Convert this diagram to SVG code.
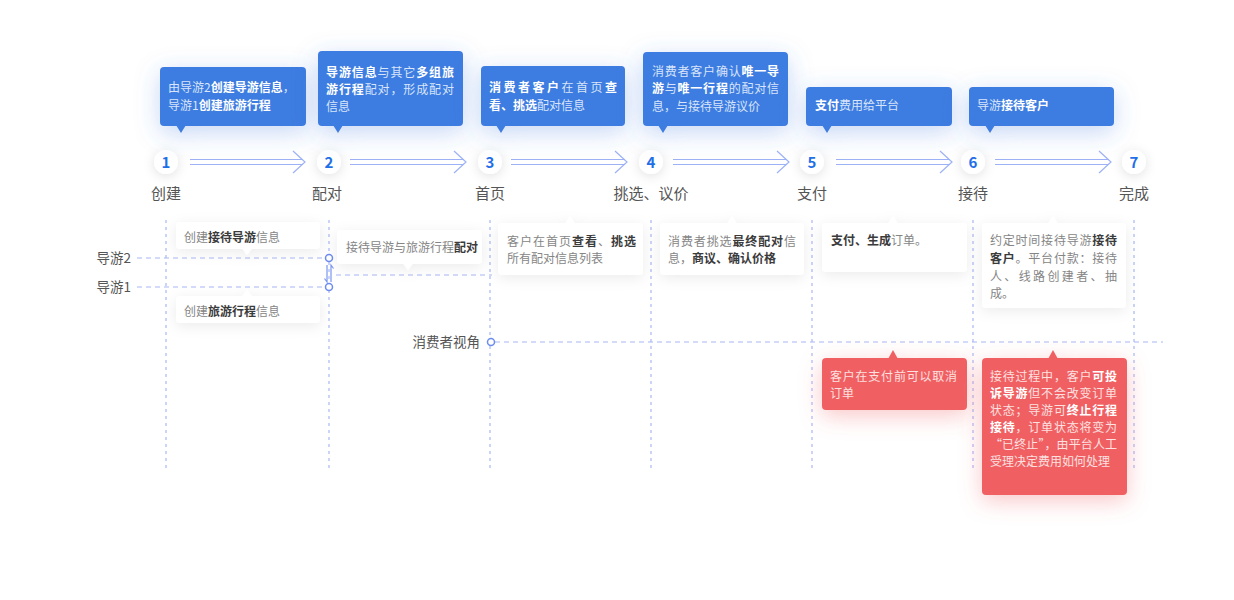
<svg xmlns="http://www.w3.org/2000/svg" width="1234" height="600" viewBox="0 0 1234 600">
<defs>
<filter id="fBlue" x="-50%" y="-80%" width="200%" height="280%"><feDropShadow dx="0" dy="6" stdDeviation="12" flood-color="#3e7ce0" flood-opacity="0.3"/></filter>
<filter id="fGray" x="-30%" y="-60%" width="160%" height="240%"><feDropShadow dx="0" dy="3" stdDeviation="7" flood-color="#000" flood-opacity="0.08"/></filter>
<filter id="fRed" x="-50%" y="-50%" width="200%" height="220%"><feDropShadow dx="0" dy="6" stdDeviation="11" flood-color="#f06064" flood-opacity="0.35"/></filter>
<filter id="fCirc" x="-150%" y="-150%" width="400%" height="400%"><feDropShadow dx="0" dy="2" stdDeviation="6" flood-color="#000" flood-opacity="0.12"/></filter>
</defs>
<style>
text{font-family:"Noto Sans CJK SC","Noto Sans",sans-serif}
.blue{fill:#3e7be0}
.white{fill:#fff}
.red{fill:#f06064}
.bt{font-size:12px;fill:#d9e5fb}
.bt .b{font-weight:bold;fill:#fff}
.ct{font-size:12px;fill:#858585}
.ct .b{font-weight:bold;fill:#3b3b3b}
.rt{font-size:12px;fill:#fde0e0}
.rt .b{font-weight:bold;fill:#fff}
.vd{stroke:#a9b7f5;stroke-width:1.2;stroke-dasharray:3 4;fill:none}
.hd{stroke:#a9b7f5;stroke-width:1.2;stroke-dasharray:5 4;fill:none}
.ar{stroke:#9db2f6;stroke-width:1.2;fill:none}
.num{font-size:15px;font-weight:bold;fill:#1f6fe8;text-anchor:middle}
.lbl{font-size:15px;fill:#555;text-anchor:middle}
.side{font-size:13.5px;fill:#555;text-anchor:end}
.dot{fill:#fff;stroke:#6d8cf0;stroke-width:1.5}
</style>

<g id="connectors">
<line class="vd" x1="166" y1="220" x2="166" y2="472"/>
<line class="vd" x1="329" y1="220" x2="329" y2="472"/>
<line class="vd" x1="490" y1="220" x2="490" y2="472"/>
<line class="vd" x1="651" y1="220" x2="651" y2="472"/>
<line class="vd" x1="812" y1="220" x2="812" y2="472"/>
<line class="vd" x1="973" y1="220" x2="973" y2="472"/>
<line class="vd" x1="1134" y1="220" x2="1134" y2="472"/>
<line class="hd" x1="137" y1="258" x2="325" y2="258"/>
<line class="hd" x1="137" y1="287" x2="325" y2="287"/>
<line class="hd" x1="336" y1="275" x2="492" y2="275"/>
<line class="hd" x1="495" y1="342" x2="1163" y2="342"/>
<path d="M327 265 V282 L324.5 278.5" stroke="#7b97f0" stroke-width="1.2" fill="none"/>
<path d="M331 282 V265 L333.5 268.5" stroke="#7b97f0" stroke-width="1.2" fill="none"/>
<circle class="dot" cx="329" cy="258" r="3.5"/>
<circle class="dot" cx="329" cy="287" r="3.5"/>
<circle class="dot" cx="491" cy="342" r="3.5"/>
<g id="step-arrows">
<path class="ar" d="M190 159.5 H303 M190 164.5 H303 M293 151 L305 162 L293 173"/>
<path class="ar" d="M350 159.5 H464 M350 164.5 H464 M454 151 L466 162 L454 173"/>
<path class="ar" d="M511 159.5 H625 M511 164.5 H625 M615 151 L627 162 L615 173"/>
<path class="ar" d="M673 159.5 H787 M673 164.5 H787 M777 151 L789 162 L777 173"/>
<path class="ar" d="M836 159.5 H950 M836 164.5 H950 M940 151 L952 162 L940 173"/>
<path class="ar" d="M995 159.5 H1109 M995 164.5 H1109 M1099 151 L1111 162 L1099 173"/>
</g>
</g>

<g id="step1"><circle cx="166" cy="162" r="12" class="white" filter="url(#fCirc)"/><text class="num" x="166" y="167.5">1</text><text class="lbl" x="166" y="199">创建</text></g>
<g id="step2"><circle cx="329" cy="162" r="12" class="white" filter="url(#fCirc)"/><text class="num" x="329" y="167.5">2</text><text class="lbl" x="327" y="199">配对</text></g>
<g id="step3"><circle cx="490" cy="162" r="12" class="white" filter="url(#fCirc)"/><text class="num" x="490" y="167.5">3</text><text class="lbl" x="490" y="199">首页</text></g>
<g id="step4"><circle cx="651" cy="162" r="12" class="white" filter="url(#fCirc)"/><text class="num" x="651" y="167.5">4</text><text class="lbl" x="651" y="199">挑选、议价</text></g>
<g id="step5"><circle cx="812" cy="162" r="12" class="white" filter="url(#fCirc)"/><text class="num" x="812" y="167.5">5</text><text class="lbl" x="812" y="199">支付</text></g>
<g id="step6"><circle cx="973" cy="162" r="12" class="white" filter="url(#fCirc)"/><text class="num" x="973" y="167.5">6</text><text class="lbl" x="973" y="199">接待</text></g>
<g id="step7"><circle cx="1134" cy="162" r="12" class="white" filter="url(#fCirc)"/><text class="num" x="1134" y="167.5">7</text><text class="lbl" x="1134" y="199">完成</text></g>

<g id="callout1"><g filter="url(#fBlue)"><rect class="blue" x="160" y="67" width="146" height="59" rx="4"/><polygon class="blue" points="176,125 181,133 186,125"/></g>
<text class="bt" x="168" y="92">由导游2<tspan class="b">创建导游信息</tspan>，</text>
<text class="bt" x="168" y="110">导游1<tspan class="b">创建旅游行程</tspan></text></g>

<g id="callout2"><g filter="url(#fBlue)"><rect class="blue" x="318" y="51" width="145" height="75" rx="4"/><polygon class="blue" points="333,125 338,133 343,125"/></g>
<text class="bt" x="326" y="77" textLength="128" lengthAdjust="spacing"><tspan class="b">导游信息</tspan>与其它<tspan class="b">多组旅</tspan></text>
<text class="bt" x="326" y="94" textLength="128" lengthAdjust="spacing"><tspan class="b">游行程</tspan>配对，形成配对</text>
<text class="bt" x="326" y="111">信息</text></g>

<g id="callout3"><g filter="url(#fBlue)"><rect class="blue" x="481" y="66" width="144" height="60" rx="4"/><polygon class="blue" points="496,125 501,133 506,125"/></g>
<text class="bt" x="489" y="92" textLength="128" lengthAdjust="spacing"><tspan class="b">消费者客户</tspan>在首页<tspan class="b">查</tspan></text>
<text class="bt" x="489" y="110"><tspan class="b">看、挑选</tspan>配对信息</text></g>

<g id="callout4"><g filter="url(#fBlue)"><rect class="blue" x="643" y="52" width="145" height="74" rx="4"/><polygon class="blue" points="658,125 663,133 668,125"/></g>
<text class="bt" x="652" y="76" textLength="127" lengthAdjust="spacing">消费者客户确认<tspan class="b">唯一导</tspan></text>
<text class="bt" x="652" y="93" textLength="127" lengthAdjust="spacing"><tspan class="b">游</tspan>与<tspan class="b">唯一行程</tspan>的配对信</text>
<text class="bt" x="652" y="111">息，与接待导游议价</text></g>

<g id="callout5"><g filter="url(#fBlue)"><rect class="blue" x="806" y="87" width="146" height="39" rx="4"/><polygon class="blue" points="822,125 827,133 832,125"/></g>
<text class="bt" x="815" y="110"><tspan class="b">支付</tspan>费用给平台</text></g>

<g id="callout6"><g filter="url(#fBlue)"><rect class="blue" x="969" y="87" width="145" height="39" rx="4"/><polygon class="blue" points="985,125 990,133 995,125"/></g>
<text class="bt" x="977" y="110">导游<tspan class="b">接待客户</tspan></text></g>

<g id="card-guide2"><g filter="url(#fGray)"><rect class="white" x="176" y="222" width="144" height="27" rx="4"/><polygon class="white" points="242,248 247,255 252,248"/></g>
<text class="ct" x="184" y="242">创建<tspan class="b">接待导游</tspan>信息</text></g>

<g id="card-guide1"><g filter="url(#fGray)"><rect class="white" x="176" y="296" width="144" height="27" rx="4"/><polygon class="white" points="242,297 247,290 252,297"/></g>
<text class="ct" x="184" y="316">创建<tspan class="b">旅游行程</tspan>信息</text></g>

<g id="card-match"><g filter="url(#fGray)"><rect class="white" x="337" y="230" width="145" height="34" rx="4"/><polygon class="white" points="403,263 408,270 413,263"/></g>
<text class="ct" x="346" y="252">接待导游与旅游行程<tspan class="b">配对</tspan></text></g>

<g id="card-home"><g filter="url(#fGray)"><rect class="white" x="498" y="223" width="145" height="52" rx="4"/><polygon class="white" points="565,224 570,216 575,224"/></g>
<text class="ct" x="507" y="246" textLength="129" lengthAdjust="spacing">客户在首页<tspan class="b">查看</tspan>、<tspan class="b">挑选</tspan></text>
<text class="ct" x="507" y="263">所有配对信息列表</text></g>

<g id="card-select"><g filter="url(#fGray)"><rect class="white" x="660" y="223" width="144" height="52" rx="4"/><polygon class="white" points="727,224 732,216 737,224"/></g>
<text class="ct" x="668" y="246" textLength="128" lengthAdjust="spacing">消费者挑选<tspan class="b">最终配对</tspan>信</text>
<text class="ct" x="668" y="263">息，<tspan class="b">商议、确认价格</tspan></text></g>

<g id="card-pay"><g filter="url(#fGray)"><rect class="white" x="822" y="223" width="145" height="49" rx="4"/><polygon class="white" points="888,224 893,216 898,224"/></g>
<text class="ct" x="831" y="245"><tspan class="b">支付、生成</tspan>订单。</text></g>

<g id="card-receive"><g filter="url(#fGray)"><rect class="white" x="982" y="223" width="144" height="85" rx="4"/><polygon class="white" points="1048,224 1053,216 1058,224"/></g>
<text class="ct" x="990" y="245" textLength="127" lengthAdjust="spacing">约定时间接待导游<tspan class="b">接待</tspan></text>
<text class="ct" x="990" y="263" textLength="127" lengthAdjust="spacing"><tspan class="b">客户</tspan>。平台付款：接待</text>
<text class="ct" x="990" y="281" textLength="127" lengthAdjust="spacing">人、线路创建者、抽</text>
<text class="ct" x="990" y="298">成。</text></g>

<g id="red-cancel"><g filter="url(#fRed)"><rect class="red" x="822" y="358" width="145" height="52" rx="4"/><polygon class="red" points="888,359 893,350 898,359"/></g>
<text class="rt" x="830" y="381" textLength="127" lengthAdjust="spacing">客户在支付前可以取消</text>
<text class="rt" x="830" y="398">订单</text></g>

<g id="red-complain"><g filter="url(#fRed)"><rect class="red" x="982" y="358" width="145" height="137" rx="4"/><polygon class="red" points="1048,359 1053,350 1058,359"/></g>
<text class="rt" x="990" y="381" textLength="127" lengthAdjust="spacing">接待过程中，客户<tspan class="b">可投</tspan></text>
<text class="rt" x="990" y="398" textLength="127" lengthAdjust="spacing"><tspan class="b">诉导游</tspan>但不会改变订单</text>
<text class="rt" x="990" y="415" textLength="127" lengthAdjust="spacing">状态；导游可<tspan class="b">终止行程</tspan></text>
<text class="rt" x="990" y="432" textLength="127" lengthAdjust="spacing"><tspan class="b">接待</tspan>，订单状态将变为</text>
<text class="rt" x="990" y="449" textLength="127" lengthAdjust="spacing">“已终止”，由平台人工</text>
<text class="rt" x="990" y="466">受理决定费用如何处理</text></g>

<g id="labels">
<text class="side" x="131" y="263">导游2</text>
<text class="side" x="131" y="292">导游1</text>
<text class="side" x="480" y="347">消费者视角</text>
</g>
</svg>
